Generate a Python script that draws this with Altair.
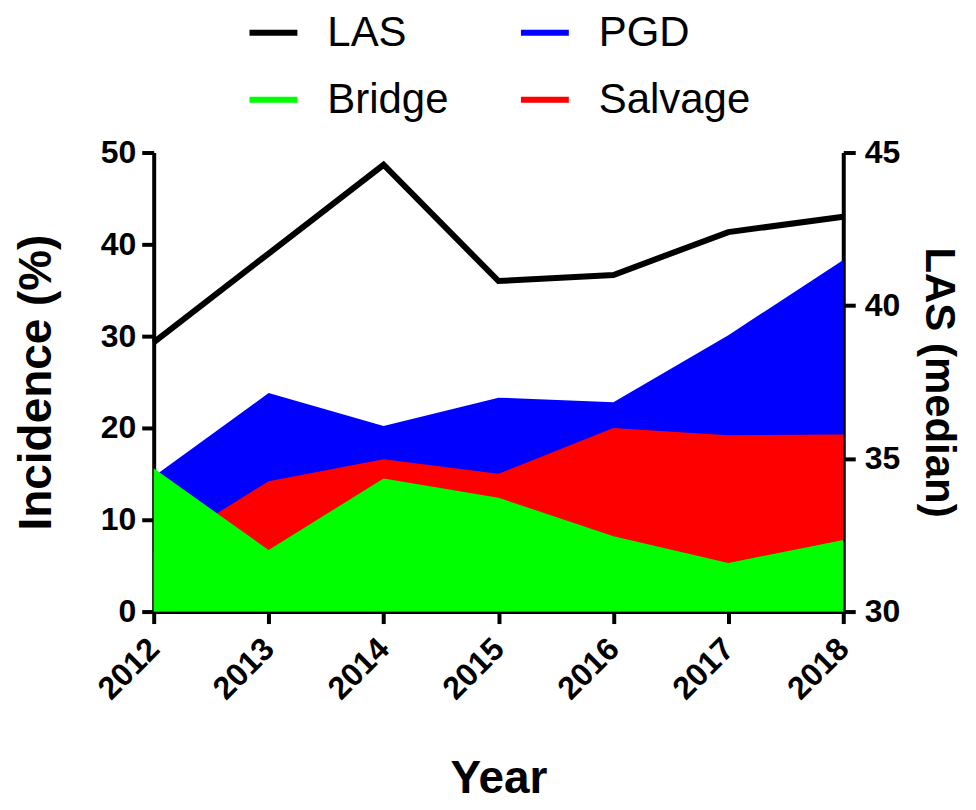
import altair as alt
import pandas as pd

years = [2012, 2013, 2014, 2015, 2016, 2017, 2018]
las = [38.8, 41.7, 44.6, 40.8, 41.0, 42.4, 42.9]
pgd = [14.7, 23.8, 20.2, 23.3, 22.8, 30.1, 38.3]
salvage = [6.4, 14.2, 16.6, 15.0, 20.0, 19.2, 19.3]
bridge = [15.6, 6.7, 14.5, 12.4, 8.2, 5.3, 7.8]

series_names = ["LAS", "PGD", "Bridge", "Salvage"]
series_colors = ["#000000", "#0000ff", "#00ff00", "#ff0000"]
left_ticks = [0, 10, 20, 30, 40, 50]
right_ticks = [30, 35, 40, 45]

FONT = "Liberation Sans"

area_df = pd.DataFrame({
    "Year": years * 3,
    "series": ["PGD"] * len(years) + ["Salvage"] * len(years) + ["Bridge"] * len(years),
    "value": pgd + salvage + bridge,
})
las_df = pd.DataFrame({"Year": years, "series": ["LAS"] * len(years), "value": las})

color = alt.Color(
    "series:N",
    scale=alt.Scale(domain=series_names, range=series_colors),
    legend=alt.Legend(
        title=None, orient="none", legendX=96, legendY=-144, columns=2, direction="horizontal",
        symbolType="M-1,-0.125L1,-0.125L1,0.125L-1,0.125Z", symbolSize=2304,
        symbolStrokeWidth=0, symbolOpacity=1,
        labelFont=FONT, labelFontSize=42, labelFontWeight="normal", labelColor="black",
        labelOffset=30, columnPadding=72, rowPadding=22, labelLimit=0,
    ),
)

x = alt.X(
    "Year:Q",
    scale=alt.Scale(domain=[2012, 2018], nice=False, zero=False),
    axis=alt.Axis(values=years, format="d", labelAngle=-45, labelAlign="right", labelBaseline="middle",
                  labelPadding=20, labelFontSize=32, title="Year", titlePadding=52),
)
y_left = alt.Y(
    "value:Q", stack=None,
    scale=alt.Scale(domain=[0, 50], nice=False),
    axis=alt.Axis(values=left_ticks, title="Incidence (%)", titlePadding=40, labelPadding=6),
)


def area_layer(name):
    return (
        alt.Chart(area_df)
        .transform_filter(alt.datum.series == name)
        .mark_area(opacity=1, strokeWidth=0)
        .encode(x=x, y=y_left, color=color)
    )


areas = alt.layer(area_layer("PGD"), area_layer("Salvage"), area_layer("Bridge"))

line = alt.Chart(las_df).mark_line(color="black", strokeWidth=6).encode(
    x=x,
    y=alt.Y(
        "value:Q",
        scale=alt.Scale(domain=[30, 45], nice=False, zero=False),
        axis=alt.Axis(values=right_ticks, title="LAS (median)", orient="right",
                      titlePadding=17, labelPadding=9, titleFontSize=42),
    ),
)

chart = (
    alt.layer(areas, line)
    .resolve_scale(y="independent")
    .properties(width=691, height=460, padding={"left": 5, "top": 0, "right": 8, "bottom": 2})
    .configure_view(stroke=None)
    .configure_axis(
        grid=False,
        domainColor="black", domainWidth=4,
        tickColor="black", tickWidth=4, tickSize=12,
        labelFont=FONT, labelFontSize=32, labelFontWeight="bold", labelColor="black",
        titleFont=FONT, titleFontSize=46, titleFontWeight="bold", titleColor="black",
    )
)

chart.save("out.html", embed_options={"renderer": "svg", "actions": False})
